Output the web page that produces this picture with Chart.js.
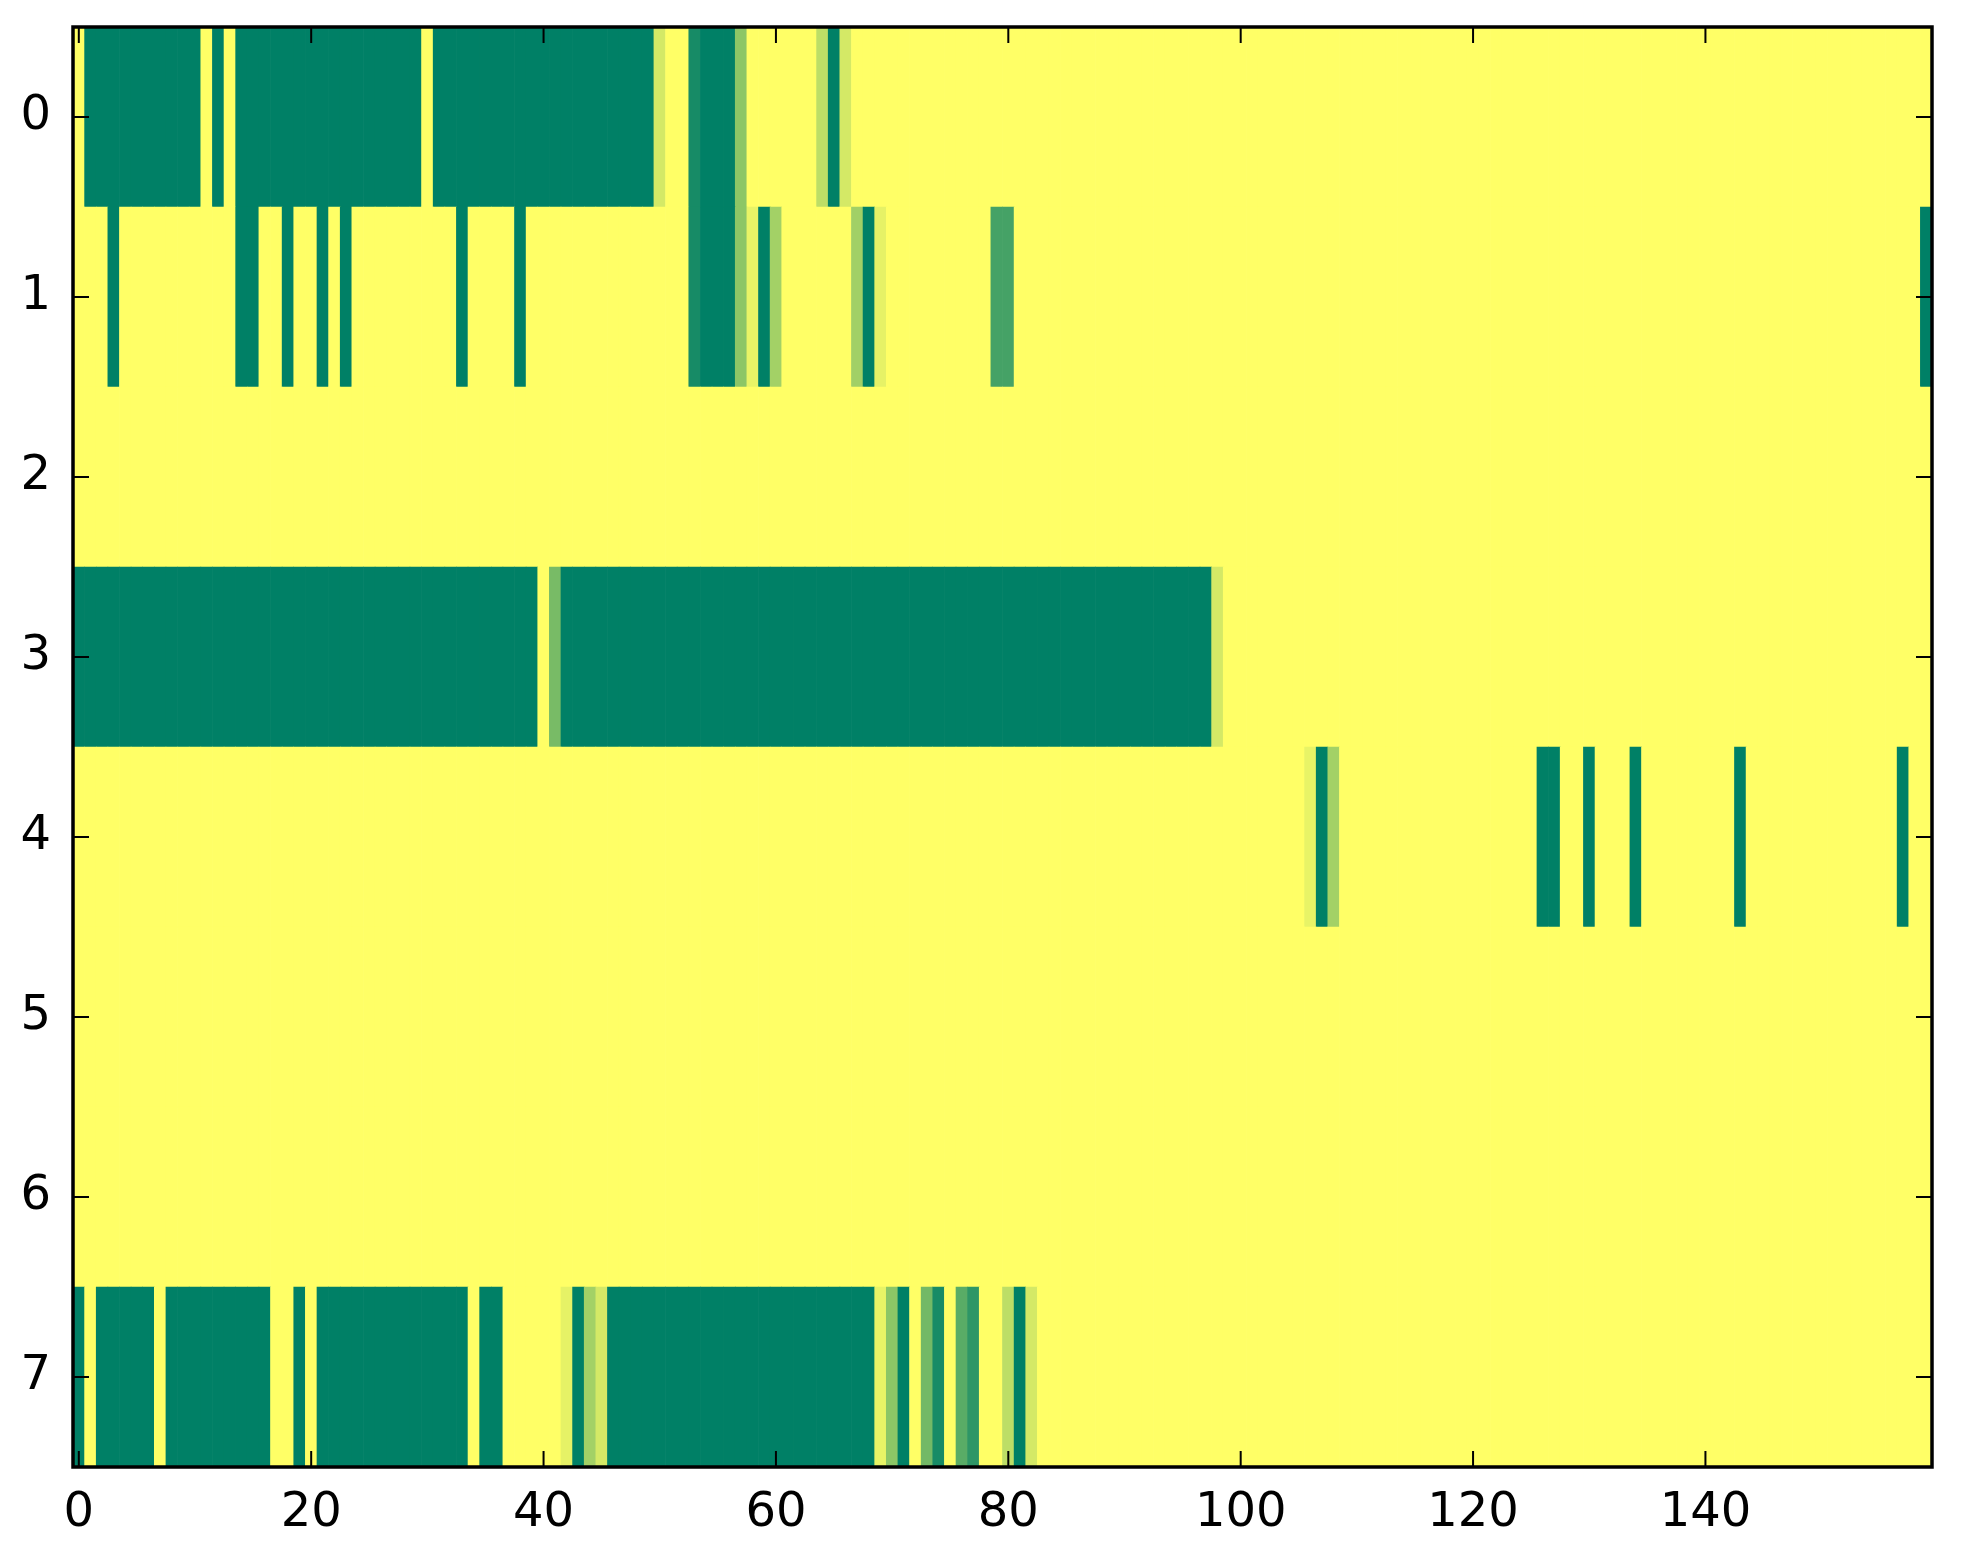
<!DOCTYPE html>
<html>
<head>
<meta charset="utf-8">
<script src="https://cdn.jsdelivr.net/npm/chart.js@4"></script>
<style>
  html, body { margin: 0; padding: 0; background: #ffffff; }
  #wrap { width: 1963px; height: 1564px; }
</style>
</head>
<body>
<div id="wrap"><canvas id="chart" width="1963" height="1564"></canvas></div>
<script>
const nCols = 160;
const rowLabels = [0, 1, 2, 3, 4, 5, 6, 7];
const xTicks = [0, 20, 40, 60, 80, 100, 120, 140];

// runs of [firstCol, lastCol, value]; any cell not listed has value 1
const row0 = [[1, 10, 0], [12, 12, 0], [14, 29, 0], [31, 49, 0], [50, 50, 0.83],
              [53, 53, 0.09], [54, 56, 0], [57, 57, 0.55], [64, 64, 0.74], [65, 65, 0], [66, 66, 0.83]];
const row1 = [[3, 3, 0], [14, 15, 0], [18, 18, 0], [21, 21, 0], [23, 23, 0], [33, 33, 0], [38, 38, 0],
              [53, 53, 0.09], [54, 56, 0], [57, 57, 0.55], [58, 58, 0.91], [59, 59, 0], [60, 60, 0.64],
              [67, 67, 0.63], [68, 68, 0], [69, 69, 0.9], [79, 80, 0.27], [159, 159, 0]];
const row2 = [];
const row3 = [[0, 39, 0], [41, 41, 0.47], [42, 97, 0], [98, 98, 0.83]];
const row4 = [[106, 106, 0.91], [107, 107, 0], [108, 108, 0.64], [126, 127, 0], [130, 130, 0],
              [134, 134, 0], [143, 143, 0], [157, 157, 0]];
const row5 = [];
const row6 = [];
const row7 = [[0, 0, 0], [2, 6, 0], [8, 16, 0], [19, 19, 0], [21, 33, 0], [35, 36, 0],
              [42, 42, 0.9], [43, 43, 0], [44, 44, 0.64], [45, 45, 0.83], [46, 68, 0], [69, 69, 0.91],
              [70, 70, 0.55], [71, 71, 0], [73, 73, 0.45], [74, 74, 0.09], [76, 76, 0.35], [77, 77, 0.18],
              [80, 80, 0.74], [81, 81, 0], [82, 82, 0.83]];
const rows = [row0, row1, row2, row3, row4, row5, row6, row7];

// matplotlib "summer" colormap
function summer(v) {
    const r = Math.round(255 * v);
    const g = Math.round(255 * (0.5 + 0.5 * v));
    return 'rgb(' + r + ',' + g + ',102)';
}

// expand runs into one cell per column
let cells = [];
rows.forEach((runs, r) => {
    let vals = new Array(nCols).fill(1);
    runs.forEach(run => {
        for (let c = run[0]; c <= run[1]; c++) vals[c] = run[2];
    });
    vals.forEach((v, c) => {
        cells.push({ x: [c - 0.5, c + 0.5], y: rowLabels[r], v: v });
    });
});

const tickFont = { family: 'DejaVu Sans', size: 48 };

/* ===== frame + inward ticks, like matplotlib classic ===== */
const framePlugin = {
    id: 'frame',
    afterDraw(chart) {
        const ctx = chart.ctx;
        const a = chart.chartArea;
        const xs = chart.scales.x, ys = chart.scales.y;
        const len = 16;
        ctx.save();
        ctx.strokeStyle = '#000';
        ctx.lineWidth = 2;
        ctx.beginPath();
        xTicks.forEach(t => {
            const px = xs.getPixelForValue(t);
            ctx.moveTo(px, a.bottom); ctx.lineTo(px, a.bottom - len);
            ctx.moveTo(px, a.top); ctx.lineTo(px, a.top + len);
        });
        rowLabels.forEach(t => {
            const py = ys.getPixelForValue(t);
            ctx.moveTo(a.left, py); ctx.lineTo(a.left + len, py);
            ctx.moveTo(a.right, py); ctx.lineTo(a.right - len, py);
        });
        ctx.stroke();
        ctx.lineWidth = 3.5;
        ctx.strokeRect(a.left, a.top, a.right - a.left, a.bottom - a.top);
        ctx.restore();
    }
};

const ctx = document.getElementById('chart').getContext('2d');

const chart = new Chart(ctx, {
    type: 'bar',
    data: {
        datasets: [{
            data: cells,
            backgroundColor: c => summer(c.raw.v),
            borderWidth: 0,
            barPercentage: 1,
            categoryPercentage: 1
        }]
    },
    options: {
        indexAxis: 'y',
        responsive: false,
        devicePixelRatio: 1,
        animation: false,
        layout: { padding: { top: 27, right: 31, left: 0, bottom: 0 } },
        plugins: {
            legend: { display: false },
            tooltip: { enabled: false }
        },
        scales: {
            x: {
                type: 'linear',
                min: -0.5,
                max: 159.5,
                offset: false,
                grid: { display: false },
                border: { display: false },
                afterBuildTicks: s => { s.ticks = xTicks.map(v => ({ value: v })); },
                afterFit: s => { s.height = 97; s.paddingLeft = 0; s.paddingRight = 0; },
                ticks: { font: tickFont, color: '#000', padding: 10, maxRotation: 0 }
            },
            y: {
                type: 'linear',
                reverse: true,
                min: -0.5,
                max: 7.5,
                offset: false,
                grid: { display: false },
                border: { display: false },
                afterBuildTicks: s => { s.ticks = rowLabels.map(v => ({ value: v })); },
                afterFit: s => { s.width = 73; s.paddingTop = 0; s.paddingBottom = 0; },
                ticks: { font: tickFont, color: '#000', padding: 14 }
            }
        }
    },
    plugins: [framePlugin]
});
</script>
</body>
</html>
